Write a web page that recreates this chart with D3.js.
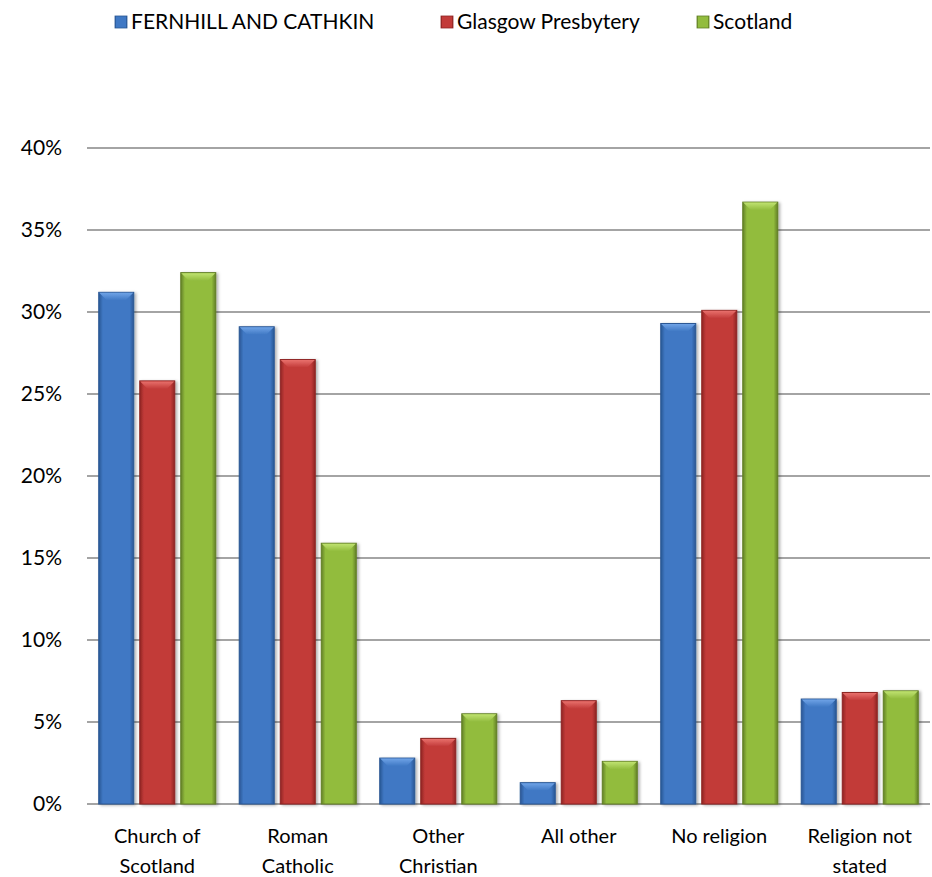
<!DOCTYPE html>
<html>
<head>
<meta charset="utf-8">
<script src="https://cdn.jsdelivr.net/npm/d3@7"></script>
<style>
  body { margin: 0; background: #fff; }
  text { font-family: Lato, "Open Sans", sans-serif; fill: #000; }
</style>
</head>
<body>
<svg width="932" height="877"></svg>
<script>
var categories = [["Church of", "Scotland"], ["Roman", "Catholic"], ["Other", "Christian"],
                  ["All other"], ["No religion"], ["Religion not", "stated"]];
var seriesNames = ["FERNHILL AND CATHKIN", "Glasgow Presbytery", "Scotland"];
var fernhill = [31.2, 29.1, 2.8, 1.3, 29.3, 6.4];
var glasgow  = [25.8, 27.1, 4.0, 6.3, 30.1, 6.8];
var scotland = [32.4, 15.9, 5.5, 2.6, 36.7, 6.9];
var yTicks = [0, 5, 10, 15, 20, 25, 30, 35, 40];

var seriesValues = [fernhill, glasgow, scotland];
var colors = [
  {base: "#3f78c4", light: "#6fa3e6", dark: "#2a5794"},
  {base: "#c23b39", light: "#e8706c", dark: "#8e2523"},
  {base: "#92bc3e", light: "#bfe270", dark: "#627f26"}
];

var svg = d3.select("svg");
var defs = svg.append("defs");

colors.forEach(function(c, i) {
  var g = defs.append("linearGradient").attr("id", "side" + i)
    .attr("x1", "0").attr("x2", "1").attr("y1", "0").attr("y2", "0");
  g.append("stop").attr("offset", "0").attr("stop-color", c.dark);
  g.append("stop").attr("offset", "0.12").attr("stop-color", c.base);
  g.append("stop").attr("offset", "0.5").attr("stop-color", c.base);
  g.append("stop").attr("offset", "0.88").attr("stop-color", c.base);
  g.append("stop").attr("offset", "1").attr("stop-color", c.dark);
  var t = defs.append("linearGradient").attr("id", "top" + i)
    .attr("x1", "0").attr("x2", "0").attr("y1", "0").attr("y2", "1");
  t.append("stop").attr("offset", "0").attr("stop-color", c.light);
  t.append("stop").attr("offset", "1").attr("stop-color", c.base);
});

var shadow = defs.append("filter").attr("id", "shadow")
  .attr("x", "-20%").attr("y", "-5%").attr("width", "150%").attr("height", "115%");
shadow.append("feDropShadow").attr("dx", 2).attr("dy", 1).attr("stdDeviation", 1.5)
  .attr("flood-color", "#000").attr("flood-opacity", 0.3);

var x0 = d3.scaleBand().domain(d3.range(categories.length)).range([87, 930]);
var x1 = d3.scaleBand().domain(d3.range(seriesNames.length)).range([0, x0.bandwidth()])
  .paddingInner(0.146).paddingOuter(0.286);
var y = d3.scaleLinear().domain([0, 40]).range([804, 148]);

// gridlines
svg.append("g").selectAll("line").data(yTicks).enter().append("line")
  .attr("x1", 87).attr("x2", 930)
  .attr("y1", function(d) { return y(d); })
  .attr("y2", function(d) { return y(d); })
  .attr("stroke", "#868686").attr("stroke-width", 1.5);

// y labels
svg.append("g").selectAll("text").data(yTicks).enter().append("text")
  .attr("x", 62).attr("y", function(d) { return y(d); })
  .attr("dy", "0.35em").attr("text-anchor", "end")
  .style("font-size", "21px")
  .text(function(d) { return d + "%"; });

// bars
var bevel = 8;
var groups = svg.append("g").selectAll("g").data(seriesValues).enter().append("g");
groups.each(function(vals, si) {
  var g = d3.select(this);
  var bars = g.selectAll("g").data(vals).enter().append("g")
    .attr("filter", "url(#shadow)");
  bars.append("rect")
    .attr("x", function(d, i) { return x0(i) + x1(si); })
    .attr("y", function(d) { return y(d); })
    .attr("width", x1.bandwidth())
    .attr("height", function(d) { return y(0) - y(d); })
    .attr("fill", "url(#side" + si + ")")
    .attr("stroke", colors[si].dark).attr("stroke-width", 1);
  bars.append("polygon")
    .attr("points", function(d, i) {
      var bx = x0(i) + x1(si), by = y(d), w = x1.bandwidth();
      var b = Math.min(bevel, (y(0) - y(d)) / 2);
      return [[bx + 0.5, by + 0.5], [bx + w - 0.5, by + 0.5], [bx + w - b, by + b], [bx + b, by + b]].join(" ");
    })
    .attr("fill", "url(#top" + si + ")");
});

// category labels
var cat = svg.append("g").selectAll("text").data(categories).enter().append("text")
  .attr("x", function(d, i) { return x0(i) + x0.bandwidth() / 2; })
  .attr("y", 843)
  .attr("text-anchor", "middle")
  .style("font-size", "20px");
cat.selectAll("tspan").data(function(d) { return d; }).enter().append("tspan")
  .attr("x", function() { return d3.select(this.parentNode).attr("x"); })
  .attr("dy", function(d, i) { return i === 0 ? 0 : 30; })
  .text(function(d) { return d; });

// legend
var legendX = [115, 441, 697];
var items = svg.append("g").selectAll("g").data(seriesNames).enter().append("g")
  .attr("transform", function(d, i) { return "translate(" + legendX[i] + ",0)"; });
items.append("rect").attr("width", 12).attr("height", 12)
  .attr("y", 16)
  .attr("fill", function(d, i) { return "url(#side" + i + ")"; })
  .attr("stroke", function(d, i) { return colors[i].dark; }).attr("stroke-width", 0.8);
items.append("text").attr("x", 16).attr("y", 22).attr("dy", "0.35em")
  .style("font-size", "21px")
  .text(function(d) { return d; });
</script>
</body>
</html>
